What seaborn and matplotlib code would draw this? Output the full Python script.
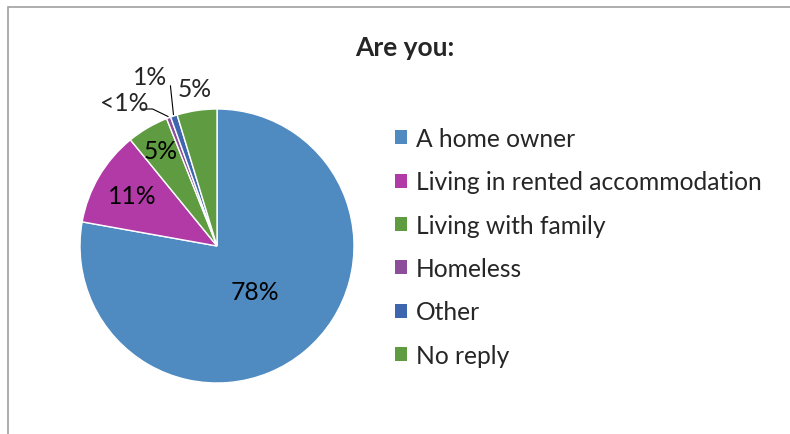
import matplotlib
matplotlib.use("Agg")
import matplotlib.pyplot as plt
import seaborn as sns
import numpy as np
from matplotlib.patches import Rectangle, Patch

categories = ["A home owner", "Living in rented accommodation", "Living with family",
              "Homeless", "Other", "No reply"]
values = [77.9, 11.3, 4.9, 0.5, 0.8, 4.7]
labels = ["78%", "11%", "5%", "<1%", "1%", "5%"]
colors = ["#4F8AC0", "#B13AA6", "#5F9B41", "#8C4E9B", "#3D66AF", "#5F9B41"]
title = "Are you:"

sns.set_theme(style="white")
plt.rcParams["font.family"] = ["Lato", "DejaVu Sans"]

W, H = 790, 435
fig = plt.figure(figsize=(W / 100, H / 100), dpi=100)
fig.patch.set_facecolor("white")

# outer frame (only top and left visible)
fig.add_artist(Rectangle((8 / W, -0.1), 1.2, (H - 8) / H + 0.1, transform=fig.transFigure,
                         fill=False, edgecolor="#A0A0A0", linewidth=1.2))

cx, cy, r = 217, 247, 137
ax = fig.add_axes([(cx - r) / W, (H - cy - r) / H, 2 * r / W, 2 * r / H])
palette = sns.color_palette(colors)
wedges, _ = ax.pie(values, colors=palette, startangle=90, counterclock=False,
                   wedgeprops=dict(edgecolor="white", linewidth=1.0))
ax.set_xlim(-1, 1)
ax.set_ylim(-1, 1)
ax.axis("off")

fs = 17.7
inner_r = {0: 0.43, 1: 0.72, 2: 0.81}
for i, w in enumerate(wedges):
    mid = np.deg2rad((w.theta1 + w.theta2) / 2)
    if i in inner_r:
        rr = inner_r[i]
        ax.text(rr * np.cos(mid), rr * np.sin(mid), labels[i], ha="center", va="center",
                fontsize=fs, color="black")

# small slices: labels outside with leader lines
m3 = np.deg2rad((wedges[3].theta1 + wedges[3].theta2) / 2)
m4 = np.deg2rad((wedges[4].theta1 + wedges[4].theta2) / 2)
ax.text(-0.68, 1.05, labels[3], ha="center", va="center", fontsize=fs, clip_on=False)
ax.plot([-0.55, -0.47, 1.01 * np.cos(m3)], [1.0, 1.0, 1.01 * np.sin(m3)],
        color="black", lw=0.8, clip_on=False)
ax.text(-0.49, 1.24, labels[4], ha="center", va="center", fontsize=fs, clip_on=False)
ax.plot([-0.34, 1.01 * np.cos(m4)], [1.17, 1.01 * np.sin(m4)],
        color="black", lw=0.8, clip_on=False)
ax.text(-0.16, 1.15, labels[5], ha="center", va="center", fontsize=fs, clip_on=False)

fig.text(405 / W, 1 - 48 / H, title, ha="center", va="center", fontsize=19,
         fontweight="bold")

handles = [Patch(facecolor=c, edgecolor="none") for c in colors]
leg = fig.legend(handles, categories, loc="upper left",
                 bbox_to_anchor=(385 / W, 1 - 118 / H), frameon=False,
                 fontsize=fs, handlelength=0.5, handleheight=0.5,
                 handletextpad=0.35, labelspacing=0.83, borderaxespad=0)

fig.savefig("out.png", dpi=100, facecolor="white")
